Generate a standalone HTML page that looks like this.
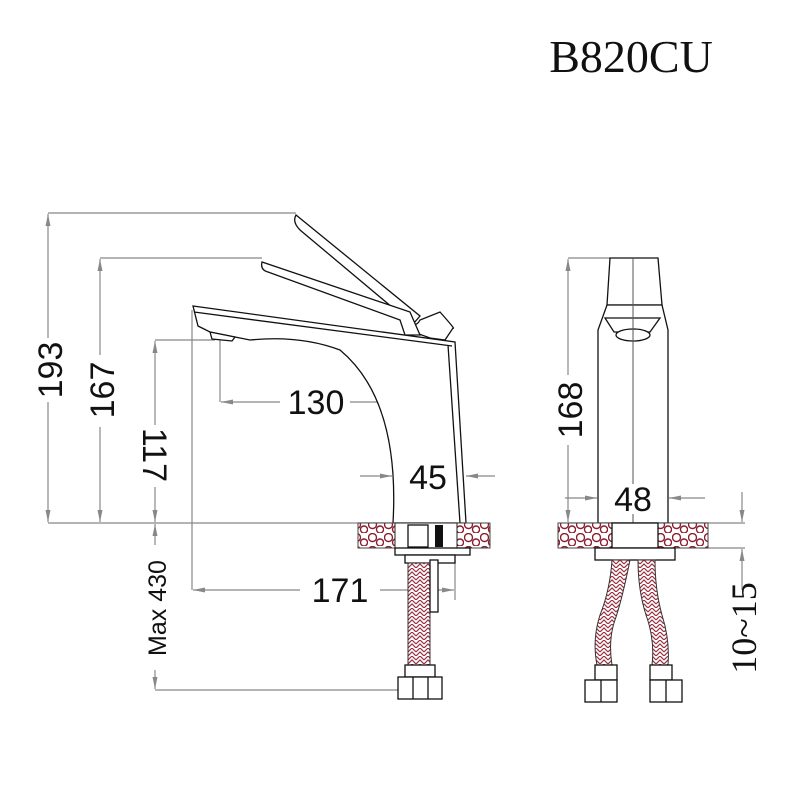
<!DOCTYPE html>
<html><head><style>
body{margin:0;background:#fff}
svg{display:block}
.d{stroke:#888;stroke-width:1.2;fill:none}
.k{stroke:#111;stroke-width:1.3;fill:#fff}
.t{font-family:"Liberation Sans",sans-serif;font-size:34px;fill:#111}
</style></head><body>
<svg width="789" height="786" viewBox="0 0 789 786">
<defs>
<pattern id="st" width="16" height="13" patternUnits="userSpaceOnUse">
<rect width="16" height="13" fill="#fff"/>
<circle cx="4.5" cy="4.5" r="4" fill="none" stroke="#8b2030" stroke-width="1.4"/>
<circle cx="12" cy="9.5" r="3.5" fill="none" stroke="#8b2030" stroke-width="1.4"/>
</pattern>
<pattern id="br" width="8" height="8" patternUnits="userSpaceOnUse">
<rect width="8" height="8" fill="#fff"/>
<path d="M0 8 L4 4 L8 8 M0 4 L4 0 L8 4" stroke="#9a3040" stroke-width="1.2" fill="none"/>
</pattern>
<marker id="a" markerWidth="12" markerHeight="8" refX="12" refY="4" orient="auto" markerUnits="userSpaceOnUse"><path d="M0 1.5 L12 4 L0 6.5z" fill="#888"/></marker>
</defs>
<text x="631" y="72" font-family="Liberation Serif,serif" font-size="46" text-anchor="middle" fill="#111">B820CU</text>

<!-- left dims -->
<path class="d" d="M48 213 H296 M100 258 H262 M155 340 H215 M48 523 H395 M155 690 H410 M192 310 V590"/>
<line class="d" x1="48" y1="370" x2="48" y2="214" marker-end="url(#a)"/>
<line class="d" x1="48" y1="370" x2="48" y2="522" marker-end="url(#a)"/>
<line class="d" x1="100" y1="390" x2="100" y2="259" marker-end="url(#a)"/>
<line class="d" x1="100" y1="390" x2="100" y2="522" marker-end="url(#a)"/>
<line class="d" x1="155" y1="440" x2="155" y2="341" marker-end="url(#a)"/>
<line class="d" x1="155" y1="440" x2="155" y2="522" marker-end="url(#a)"/>
<line class="d" x1="155" y1="600" x2="155" y2="524" marker-end="url(#a)"/>
<line class="d" x1="155" y1="600" x2="155" y2="689" marker-end="url(#a)"/>
<rect x="28" y="338" width="40" height="64" fill="#fff"/>
<rect x="80" y="355" width="40" height="72" fill="#fff"/>
<rect x="135" y="425" width="40" height="62" fill="#fff"/>
<rect x="135" y="545" width="40" height="125" fill="#fff"/>
<text class="t" transform="translate(62,370) rotate(-90)" text-anchor="middle">193</text>
<text class="t" transform="translate(114,390) rotate(-90)" text-anchor="middle">167</text>
<text class="t" transform="translate(143,455) rotate(90)" text-anchor="middle">117</text>
<text class="t" transform="translate(166,608) rotate(-90)" text-anchor="middle" style="font-size:25px">Max 430</text>
<path class="d" d="M220 340 V402 M430 368 V402"/>
<line class="d" x1="280" y1="402" x2="221" y2="402" marker-end="url(#a)"/>
<line class="d" x1="350" y1="402" x2="429" y2="402" marker-end="url(#a)"/>
<text class="t" x="316" y="414" text-anchor="middle">130</text>
<line class="d" x1="360" y1="476" x2="392" y2="476" marker-end="url(#a)"/>
<line class="d" x1="495" y1="476" x2="466" y2="476" marker-end="url(#a)"/>
<line class="d" x1="300" y1="590" x2="193" y2="590" marker-end="url(#a)"/>
<line class="d" x1="380" y1="590" x2="454" y2="590" marker-end="url(#a)"/>
<path class="d" d="M455 560 V600"/>
<text class="t" x="340" y="602" text-anchor="middle">171</text>

<!-- left faucet -->
<path class="k" d="M296 215 Q292 222 300 230 L405 318 Q415 330 420 320 L440 312 Q456 330 453 328 L445 340 L430 338 L408 330 L420 316 Z"/>
<path class="k" d="M262 262 Q260 270 268 272 L400 320 L405 335 L420 335 L410 312 L262 262Z"/>
<path class="k" d="M193 306 L455 342 L466 523 L393 523 Q400 400 340 350 Q300 335 250 340 L235 337 L210 332 L198 326 Z"/>
<path class="k" d="M194 312 L452 346 M448 345 L460 523" fill="none"/>
<path class="k" d="M210 332 L235 337 L232 341 L212 339Z"/>
<text class="t" x="428" y="489" text-anchor="middle">45</text>
<rect x="358" y="523" width="132" height="25" fill="url(#st)" stroke="#444"/>
<rect x="395" y="523" width="62" height="25" fill="#fff" stroke="#222"/>
<rect x="435" y="525" width="8" height="22" fill="#111"/>
<rect x="408" y="525" width="20" height="22" class="k"/>
<rect x="395" y="548" width="75" height="7" class="k"/>
<rect x="405" y="555" width="50" height="8" class="k"/>
<rect x="408" y="563" width="22" height="112" fill="url(#br)" stroke="#333"/>
<rect x="430" y="560" width="8" height="52" class="k"/>
<rect x="405" y="665" width="30" height="12" class="k"/>
<rect x="398" y="677" width="44" height="22" class="k"/>
<path class="k" d="M413 677 V699 M428 677 V699" fill="none"/>

<!-- right view -->
<path class="d" d="M568 258 H610 M568 523 H598 M668 523 H745 M700 548 H745"/>
<line class="d" x1="568" y1="380" x2="568" y2="259" marker-end="url(#a)"/>
<line class="d" x1="568" y1="440" x2="568" y2="522" marker-end="url(#a)"/>
<rect x="548" y="375" width="40" height="70" fill="#fff"/>
<text class="t" transform="translate(582,410) rotate(-90)" text-anchor="middle">168</text>
<line class="d" x1="565" y1="498" x2="597" y2="498" marker-end="url(#a)"/>
<line class="d" x1="705" y1="498" x2="669" y2="498" marker-end="url(#a)"/>
<line class="d" x1="742" y1="492" x2="742" y2="522" marker-end="url(#a)"/>
<line class="d" x1="742" y1="590" x2="742" y2="549" marker-end="url(#a)"/>
<text x="756" y="628" transform="rotate(-90 756 628)" font-family="Liberation Serif,serif" font-size="36" text-anchor="middle" fill="#111">10~15</text>
<path class="k" d="M610 258 H658 L662 305 H607 Z"/>
<path class="k" d="M598 523 V330 L607 305 H662 L668 330 V523 Z"/>
<path class="k" d="M605 318 L660 318 L650 332 L614 332Z"/>
<ellipse cx="633" cy="335" rx="17" ry="6" class="k"/>
<path d="M633 258 V523" stroke="#555" stroke-width="1"/>
<rect x="612" y="484" width="42" height="30" fill="#fff"/>
<text class="t" x="633" y="511" text-anchor="middle">48</text>
<rect x="558" y="523" width="150" height="25" fill="url(#st)" stroke="#444"/>
<rect x="612" y="523" width="46" height="25" class="k"/>
<rect x="595" y="548" width="80" height="12" class="k"/>
<path d="M612 560 L630 560 Q622 600 615 620 Q608 640 612 665 L597 665 Q592 640 600 615 Q610 590 612 560Z" fill="url(#br)" stroke="#333"/>
<path d="M638 560 L655 560 Q655 590 662 615 Q670 640 668 665 L652 665 Q655 640 646 615 Q638 590 638 560Z" fill="url(#br)" stroke="#333"/>
<rect x="595" y="665" width="22" height="15" class="k"/>
<rect x="650" y="665" width="22" height="15" class="k"/>
<rect x="585" y="680" width="32" height="22" class="k"/>
<rect x="650" y="680" width="32" height="22" class="k"/>
<path class="k" d="M601 680 V702 M666 680 V702" fill="none"/>
</svg>
</body></html>
